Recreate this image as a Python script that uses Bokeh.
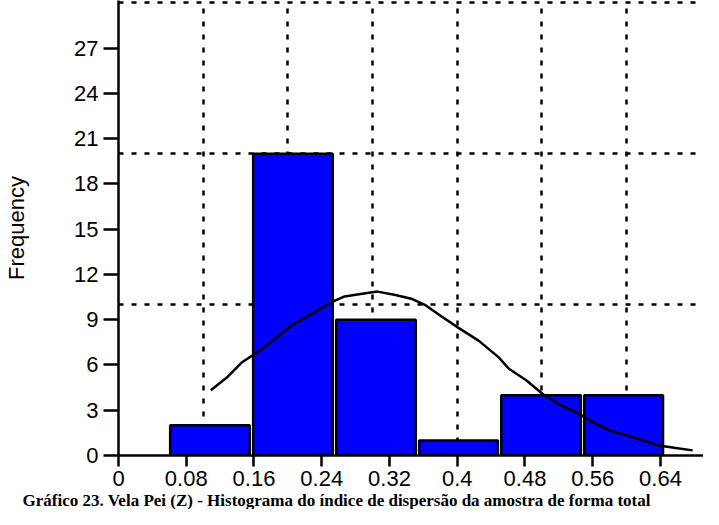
from bokeh.plotting import figure
from bokeh.models import FixedTicker, Range1d, Title
from bokeh.embed import file_html
from bokeh.resources import INLINE

# ---- data ----
bin_edges = [0.059, 0.157, 0.255, 0.353, 0.450, 0.548, 0.645]
counts = [2, 20, 9, 1, 4, 4]

curve_x = [0.109, 0.129, 0.146, 0.166, 0.186, 0.205, 0.229, 0.249, 0.267, 0.284,
           0.306, 0.327, 0.347, 0.363, 0.382, 0.402, 0.426, 0.449, 0.461, 0.481,
           0.501, 0.520, 0.544, 0.560, 0.579, 0.599, 0.619, 0.638, 0.658, 0.678]
curve_y = [4.33, 5.22, 6.18, 6.93, 7.79, 8.65, 9.40, 10.09, 10.54, 10.69,
           10.86, 10.64, 10.37, 9.94, 9.19, 8.44, 7.58, 6.50, 5.75, 5.00,
           4.08, 3.39, 2.75, 2.21, 1.67, 1.35, 0.99, 0.66, 0.50, 0.34]

x_ticks = [0, 0.08, 0.16, 0.24, 0.32, 0.4, 0.48, 0.56, 0.64]
x_tick_labels = ["0", "0.08", "0.16", "0.24", "0.32", "0.4", "0.48", "0.56", "0.64"]
y_ticks = [0, 3, 6, 9, 12, 15, 18, 21, 24, 27]
x_grid_ticks = [0.1, 0.2, 0.3, 0.4, 0.5, 0.6]
y_grid_ticks = [10, 20, 30]
y_title = "Frequency"
caption = "Gráfico 23. Vela Pei (Z) - Histograma do índice de dispersão da amostra de forma total"

# ---- derived geometry ----
centers = [(a + b) / 2 for a, b in zip(bin_edges[:-1], bin_edges[1:])]
widths = [(b - a) - 0.004 for a, b in zip(bin_edges[:-1], bin_edges[1:])]

FONT = "Liberation Sans"

p = figure(
    x_range=Range1d(0, 0.6908), y_range=Range1d(0, 30.15),
    width=703, height=509,
    min_border_left=118, min_border_right=0, min_border_top=0, min_border_bottom=0,
    output_backend="svg", toolbar_location=None,
)
p.outline_line_color = None
p.background_fill_color = "white"
p.border_fill_color = "white"

# grids
for g, t in ((p.xgrid, x_grid_ticks), (p.ygrid, y_grid_ticks)):
    g.ticker = FixedTicker(ticks=t)
    g.grid_line_color = "black"
    g.grid_line_width = 2.5
    g.grid_line_dash = "5 8"

# bars
p.vbar(x=centers, top=counts, bottom=0, width=widths,
       fill_color="#0000FF", line_color="black", line_width=2.5)

# fitted curve
p.line(curve_x, curve_y, line_color="black", line_width=2.5)

# x axis
xa = p.xaxis[0]
xa.ticker = FixedTicker(ticks=x_ticks)
xa.major_label_overrides = {t: l for t, l in zip(x_ticks, x_tick_labels)}
xa.minor_tick_line_color = None
xa.major_tick_in = 0
xa.major_tick_out = 11
xa.major_tick_line_width = 2.5
xa.axis_line_width = 2.5
xa.major_label_standoff = 4
xa.major_label_text_font = FONT
xa.major_label_text_font_size = "22px"
xa.major_label_text_color = "black"

# y axis
ya = p.yaxis[0]
ya.ticker = FixedTicker(ticks=y_ticks)
ya.minor_tick_line_color = None
ya.major_tick_in = 0
ya.major_tick_out = 15
ya.major_tick_line_width = 2.5
ya.axis_line_width = 2.5
ya.major_label_standoff = 5
ya.major_label_text_font = FONT
ya.major_label_text_font_size = "22px"
ya.major_label_text_color = "black"
ya.axis_label = y_title
ya.axis_label_text_font = FONT
ya.axis_label_text_font_size = "22px"
ya.axis_label_text_font_style = "normal"
ya.axis_label_text_color = "black"
ya.axis_label_standoff = 42

# caption below the chart
p.add_layout(Title(text=caption, align="left", offset=-96, standoff=0,
                   text_font="Liberation Serif", text_font_style="bold",
                   text_font_size="17px", text_color="black"), "below")

open("out.html", "w").write(file_html(p, INLINE))
